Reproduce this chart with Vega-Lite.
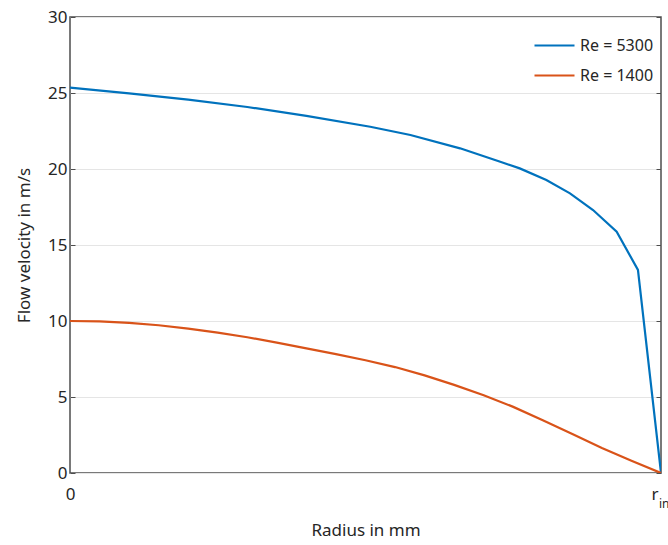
{
  "$schema": "https://vega.github.io/schema/vega-lite/v6.json",
  "width": 591,
  "height": 456,
  "autosize": "none",
  "padding": {"left": 70, "top": 17, "right": 7, "bottom": 72},
  "background": "white",
  "config": {
    "font": "Noto Sans",
    "view": {"stroke": "#4d4d4d", "strokeWidth": 1.5},
    "axis": {"labelFont": "Noto Sans", "titleFont": "Noto Sans", "labelColor": "#262626", "titleColor": "#262626", "labelFontSize": 17, "titleFontSize": 17, "titleFontWeight": "normal", "domain": false}
  },
  "data": {"values": [
    {"r": 0, "v": 25.35, "series": "Re = 5300"},
    {"r": 0.1, "v": 24.97, "series": "Re = 5300"},
    {"r": 0.2, "v": 24.56, "series": "Re = 5300"},
    {"r": 0.3, "v": 24.08, "series": "Re = 5300"},
    {"r": 0.4, "v": 23.5, "series": "Re = 5300"},
    {"r": 0.508, "v": 22.78, "series": "Re = 5300"},
    {"r": 0.576, "v": 22.24, "series": "Re = 5300"},
    {"r": 0.66, "v": 21.36, "series": "Re = 5300"},
    {"r": 0.728, "v": 20.48, "series": "Re = 5300"},
    {"r": 0.761, "v": 20.04, "series": "Re = 5300"},
    {"r": 0.806, "v": 19.28, "series": "Re = 5300"},
    {"r": 0.846, "v": 18.4, "series": "Re = 5300"},
    {"r": 0.885, "v": 17.3, "series": "Re = 5300"},
    {"r": 0.925, "v": 15.88, "series": "Re = 5300"},
    {"r": 0.961, "v": 13.36, "series": "Re = 5300"},
    {"r": 1.0, "v": 0, "series": "Re = 5300"},
    {"r": 0, "v": 10.0, "series": "Re = 1400"},
    {"r": 0.05, "v": 9.97, "series": "Re = 1400"},
    {"r": 0.1, "v": 9.88, "series": "Re = 1400"},
    {"r": 0.15, "v": 9.72, "series": "Re = 1400"},
    {"r": 0.2, "v": 9.5, "series": "Re = 1400"},
    {"r": 0.25, "v": 9.24, "series": "Re = 1400"},
    {"r": 0.3, "v": 8.93, "series": "Re = 1400"},
    {"r": 0.35, "v": 8.58, "series": "Re = 1400"},
    {"r": 0.4, "v": 8.2, "series": "Re = 1400"},
    {"r": 0.45, "v": 7.82, "series": "Re = 1400"},
    {"r": 0.5, "v": 7.42, "series": "Re = 1400"},
    {"r": 0.55, "v": 6.97, "series": "Re = 1400"},
    {"r": 0.6, "v": 6.42, "series": "Re = 1400"},
    {"r": 0.65, "v": 5.8, "series": "Re = 1400"},
    {"r": 0.7, "v": 5.12, "series": "Re = 1400"},
    {"r": 0.75, "v": 4.35, "series": "Re = 1400"},
    {"r": 0.8, "v": 3.47, "series": "Re = 1400"},
    {"r": 0.85, "v": 2.57, "series": "Re = 1400"},
    {"r": 0.9, "v": 1.65, "series": "Re = 1400"},
    {"r": 0.95, "v": 0.8, "series": "Re = 1400"},
    {"r": 1.0, "v": 0, "series": "Re = 1400"}
  ]},
  "layer": [
    {
      "mark": {"type": "line", "strokeWidth": 2.2, "clip": true},
      "encoding": {
        "x": {"field": "r", "type": "quantitative", "scale": {"domain": [0, 1], "nice": false},
          "axis": {"values": [0, 1], "grid": false, "ticks": false, "labelPadding": 13, "labelBaseline": "top",
            "labelExpr": "datum.value == 0 ? '0' : 'r'",
            "labelAlign": {"condition": {"test": "datum.value == 1", "value": "right"}, "value": "center"},
            "labelOffset": {"condition": {"test": "datum.value == 1", "value": -3}, "value": 0},
            "title": "Radius in mm", "titlePadding": 20}},
        "y": {"field": "v", "type": "quantitative", "scale": {"domain": [0, 30], "nice": false},
          "axis": {"values": [0, 5, 10, 15, 20, 25, 30], "grid": true, "gridColor": "#e5e5e5", "gridWidth": 1,
            "tickSize": -5, "tickColor": "#4d4d4d", "labelPadding": 8, "title": "Flow velocity in m/s", "titlePadding": 14}},
        "color": {"field": "series", "type": "nominal",
          "scale": {"domain": ["Re = 5300", "Re = 1400"], "range": ["#0072BD", "#D95319"]},
          "legend": {"title": null, "orient": "top-right", "offset": 0, "symbolType": "stroke", "symbolSize": 1600, "symbolStrokeWidth": 2.2, "labelFontSize": 16, "labelColor": "#262626", "labelFont": "Noto Sans", "rowPadding": -13, "padding": 7, "labelOffset": 4}}
      }
    },
    {
      "mark": {"type": "rule", "opacity": 0},
      "encoding": {
        "y": {"field": "v", "type": "quantitative", "axis": {"orient": "right", "values": [0, 5, 10, 15, 20, 25, 30], "labels": false, "grid": false, "tickSize": -5, "tickColor": "#4d4d4d", "title": null}}
      }
    },
    {
      "data": {"values": [{"r": 1, "v": 0, "t": "in"}]},
      "mark": {"type": "text", "align": "left", "baseline": "top", "dx": -2, "dy": 26, "fontSize": 12, "color": "#262626", "font": "Noto Sans"},
      "encoding": {
        "x": {"field": "r", "type": "quantitative"},
        "y": {"field": "v", "type": "quantitative", "axis": null},
        "text": {"field": "t"}
      }
    }
  ],
  "resolve": {"axis": {"y": "independent"}}
}
